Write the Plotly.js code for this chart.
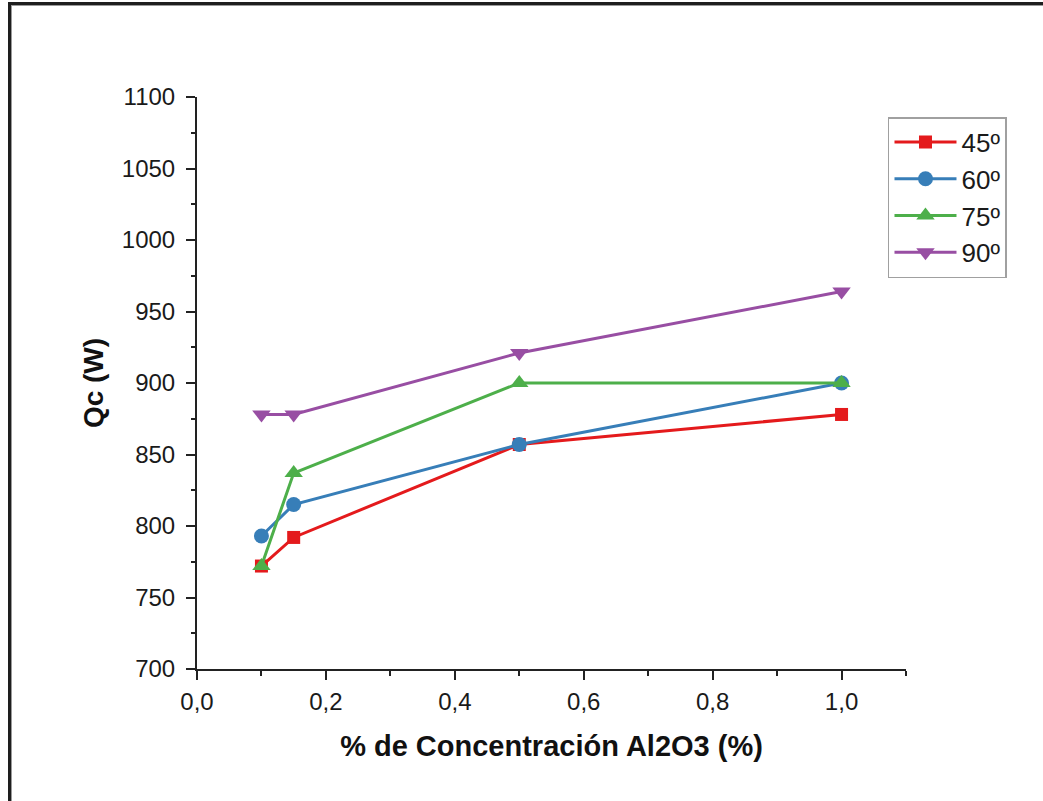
<!DOCTYPE html>
<html>
<head>
<meta charset="utf-8">
<script src="https://cdn.plot.ly/plotly-3.0.1.min.js"></script>
<style>
  html, body { margin: 0; padding: 0; background: #fff; }
  #chart { width: 1043px; height: 801px; }
  #frame {
    position: absolute; left: 8px; top: 2px; width: 1040px; height: 797px;
    border-left: 3px solid #1e1e1e; border-top: 3px solid #1e1e1e;
    border-bottom: 1px solid #d0d0d0; pointer-events: none;
    box-shadow: inset 1px 1px 0 #9a9a9a;
  }
</style>
</head>
<body>
<div id="chart"></div>
<div id="frame"></div>
<script>
const concentration = [0.1, 0.15, 0.5, 1.0];
const q45 = [772, 792, 857, 878];
const q60 = [793, 815, 857, 900];
const q75 = [772, 837, 900, 900];
const q90 = [878, 878, 921, 964];
const seriesNames = ['45º', '60º', '75º', '90º'];

const colors = ['#e41a1c', '#377eb8', '#4daf4a', '#984ea3'];
const symbols = ['square', 'circle', 'triangle-up', 'triangle-down'];
const sizes = [13, 15, 16, 16];
const values = [q45, q60, q75, q90];

const traces = values.map((v, i) => ({
  x: concentration, y: v, name: seriesNames[i], type: 'scatter', mode: 'lines+markers',
  line: {color: colors[i], width: 3},
  marker: {color: colors[i], symbol: symbols[i], size: sizes[i]}
}));

const font = '"Liberation Sans", Arial, sans-serif';
const layout = {
  width: 1043, height: 801,
  margin: {l: 197, r: 137, t: 97, b: 132},
  paper_bgcolor: '#fff', plot_bgcolor: '#fff',
  separators: ',.',
  showlegend: true,
  font: {family: font, color: '#1a1a1a'},
  xaxis: {
    range: [0, 1.1], dtick: 0.2, tick0: 0, tickformat: '.1f',
    showgrid: false, zeroline: false, showline: true, linecolor: '#222', linewidth: 2,
    ticks: 'outside', ticklen: 9, tickwidth: 2, tickcolor: '#222',
    minor: {ticks: 'outside', dtick: 0.1, ticklen: 5, tickwidth: 2, tickcolor: '#222', showgrid: false},
    tickfont: {size: 24, family: font, color: '#1a1a1a'},
    ticklabelstandoff: 1,
    title: {text: '% de Concentración Al2O3 (%)', font: {size: 29, family: font, color: '#111', weight: 'bold'}, standoff: 22}
  },
  yaxis: {
    range: [700, 1100], dtick: 50, tick0: 700,
    showgrid: false, zeroline: false, showline: true, linecolor: '#222', linewidth: 2,
    ticks: 'outside', ticklen: 9, tickwidth: 2, tickcolor: '#222',
    minor: {ticks: 'outside', dtick: 25, ticklen: 4, tickwidth: 2, tickcolor: '#222', showgrid: false},
    tickfont: {size: 24, family: font, color: '#1a1a1a'},
    ticklabelstandoff: 6,
    title: {text: 'Qc (W)', font: {size: 28, family: font, color: '#111', weight: 'bold'}, standoff: 10}
  },
  legend: {
    x: 0.9746, y: 0.965, xanchor: 'left', yanchor: 'top',
    bgcolor: '#fff', bordercolor: '#a0a0a0', borderwidth: 1.5,
    font: {size: 26, family: font, color: '#1a1a1a'},
    itemwidth: 62
  }
};

Plotly.newPlot('chart', traces, layout, {displayModeBar: false, staticPlot: true});
</script>
</body>
</html>
